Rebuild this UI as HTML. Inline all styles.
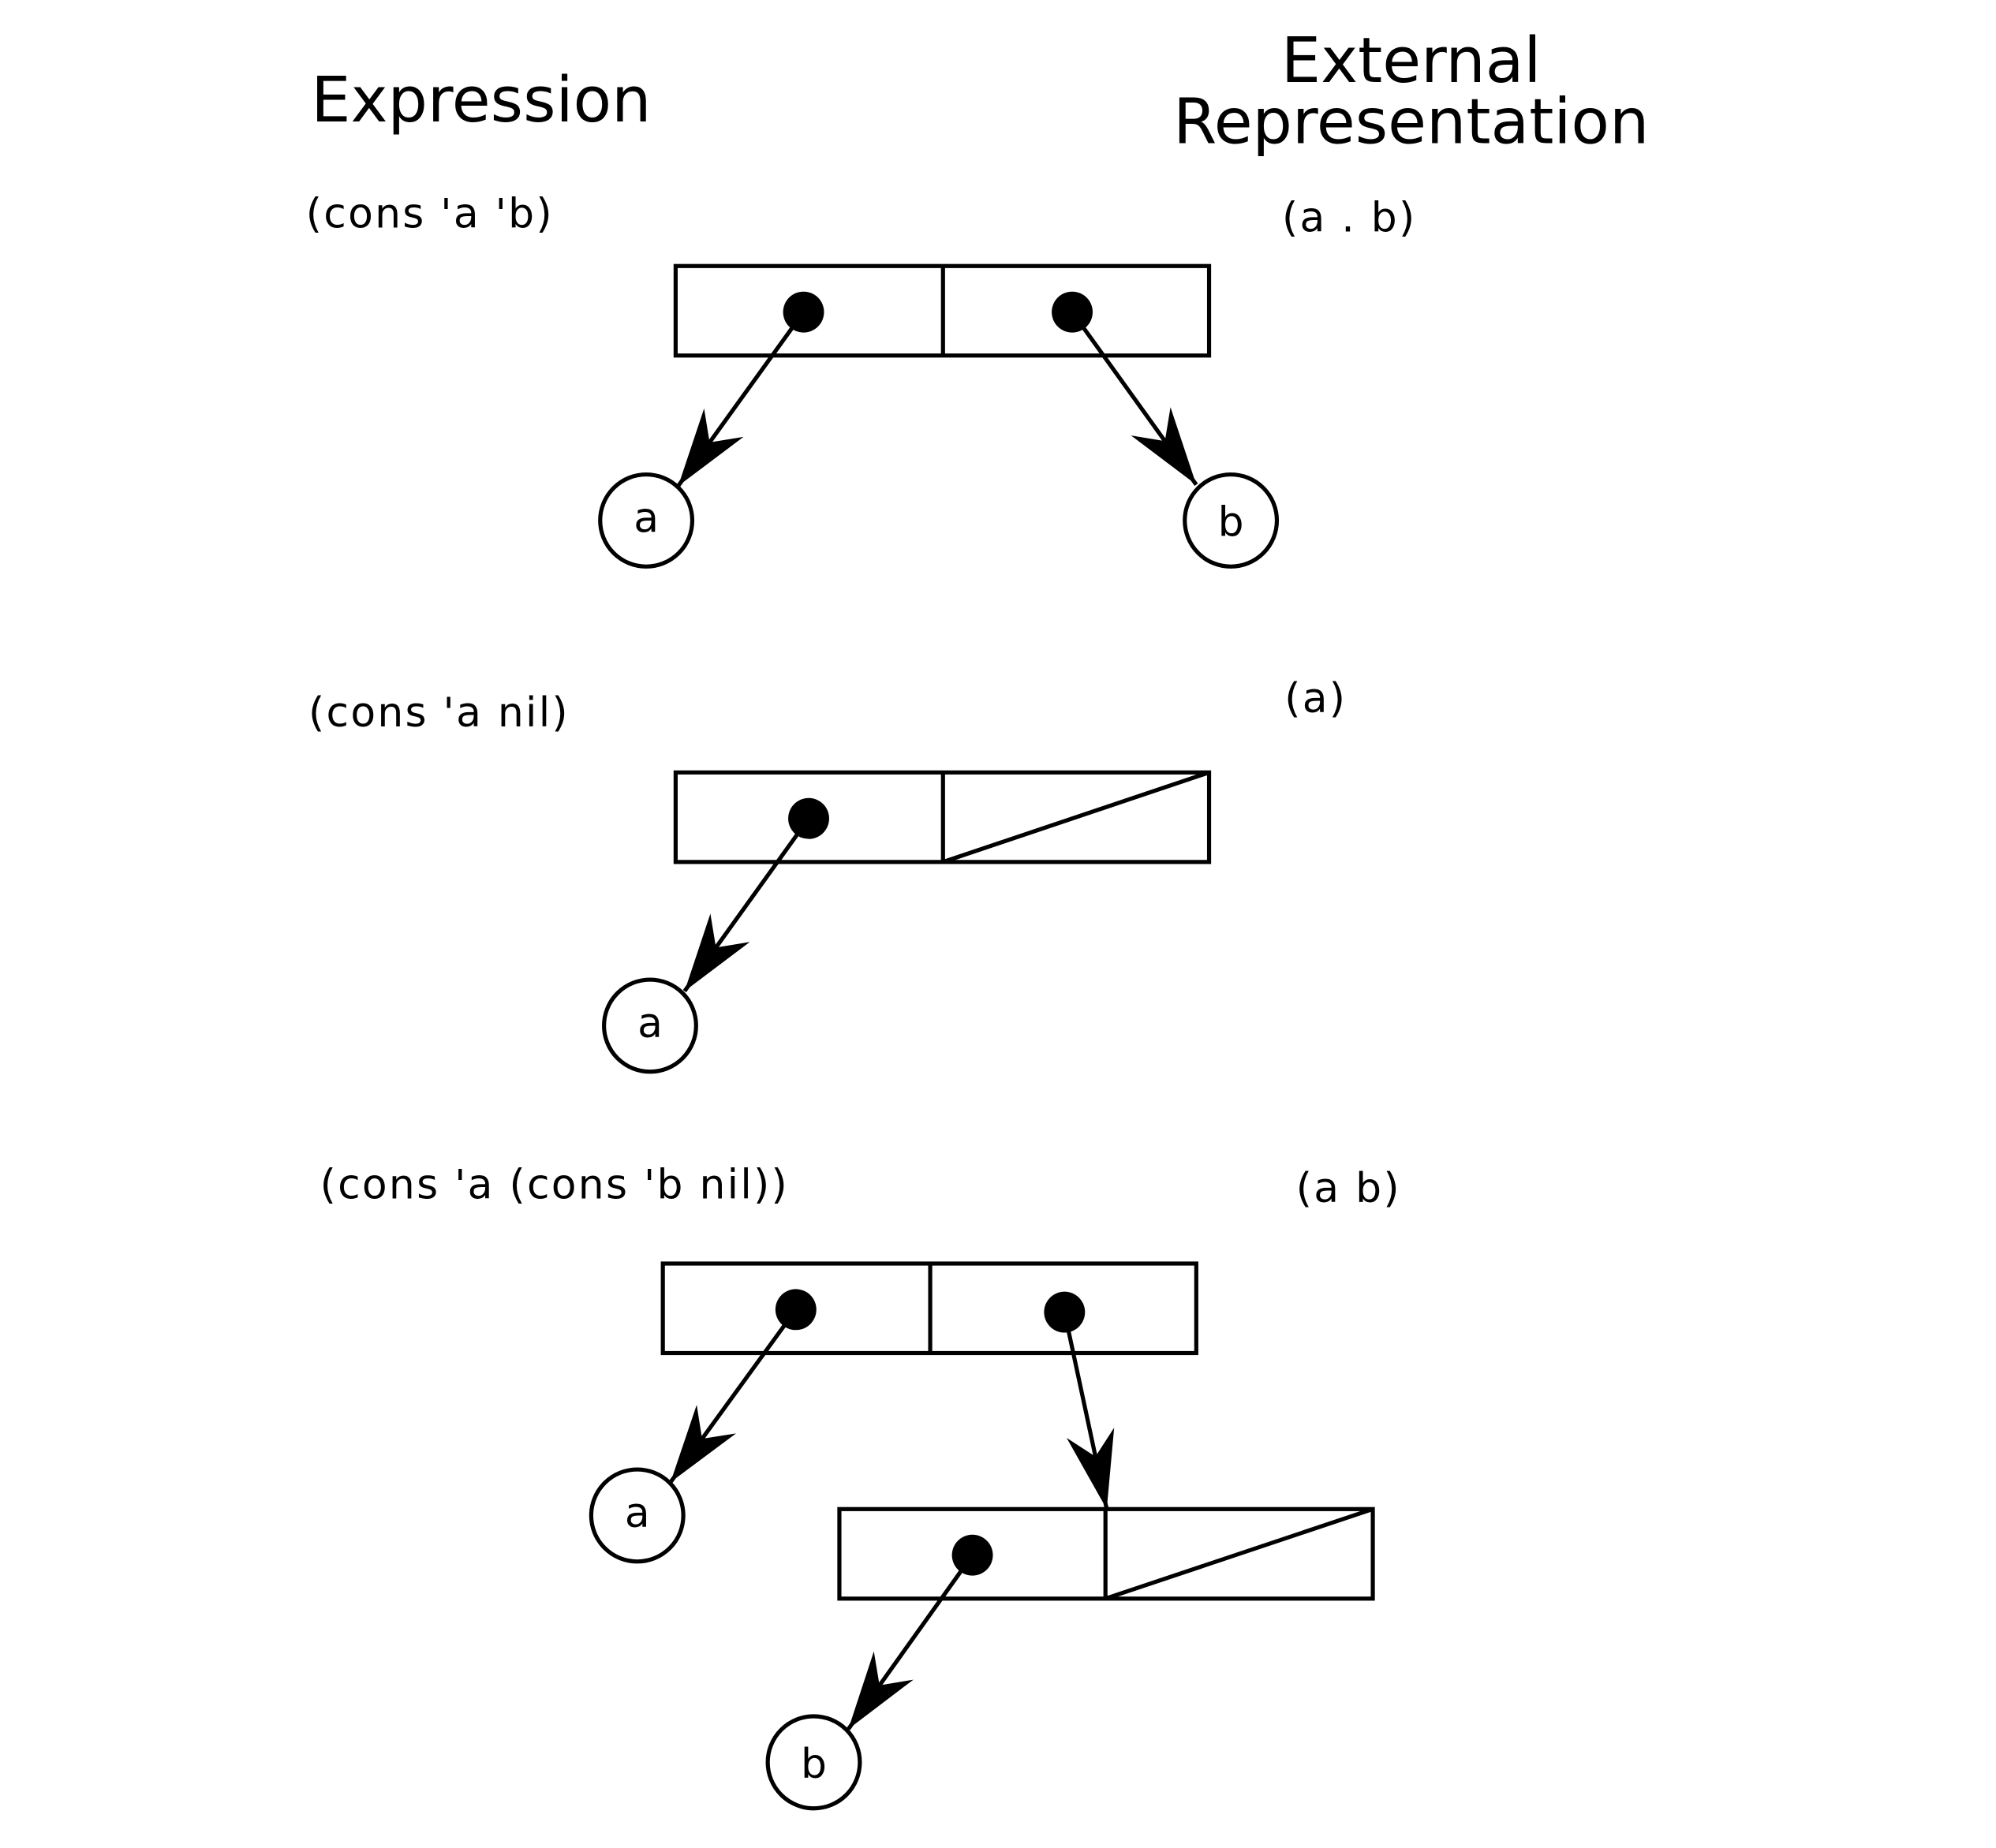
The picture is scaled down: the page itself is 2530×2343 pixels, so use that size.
<!DOCTYPE html>
<html><head><meta charset="utf-8"><style>
html,body{margin:0;padding:0;background:#fff;}
svg{display:block;}
text{font-family:"DejaVu Sans","Liberation Sans",sans-serif;fill:#000;}
</style></head><body>
<svg width="2530" height="2343" viewBox="0 0 1560 1445" xmlns="http://www.w3.org/2000/svg">
<defs>
<marker id="ah" markerUnits="userSpaceOnUse" markerWidth="80" markerHeight="60" viewBox="-70 -30 80 60" refX="0" refY="0" orient="auto">
<path d="M0,0 L-61,-19 L-42,0 L-61,19 Z" fill="#000"/>
</marker>
</defs>
<rect width="1560" height="1445" fill="#fff"/>
<g font-size="49" letter-spacing="0">
<text x="243" y="95">Expression</text>
<text x="1103" y="64" text-anchor="middle">External</text>
<text x="1103" y="112" text-anchor="middle">Representation</text>
</g>
<g font-size="32" letter-spacing="1.4">
<text x="239" y="178">(cons 'a 'b)</text>
<text x="1002" y="181">(a . b)</text>
<text x="241" y="568">(cons 'a nil)</text>
<text x="1004" y="557">(a)</text>
<text x="250" y="937">(cons 'a (cons 'b nil))</text>
<text x="1013" y="940">(a b)</text>
</g>
<g stroke="#000" stroke-width="3.2" fill="none">
<g>
<rect x="528" y="208" width="417" height="70"/><line x1="737" y1="208" x2="737" y2="278"/>
</g>
<line x1="628" y1="244" x2="530" y2="380" marker-end="url(#ah)"/>
<line x1="838" y1="244" x2="935" y2="379" marker-end="url(#ah)"/>
<circle cx="505" cy="407" r="36"/>
<circle cx="962" cy="407" r="36"/>
<g>
<rect x="528" y="604" width="417" height="70"/><line x1="737" y1="604" x2="737" y2="674"/><line x1="737" y1="674" x2="945" y2="604"/>
</g>
<line x1="632" y1="640" x2="535" y2="775" marker-end="url(#ah)"/>
<circle cx="508" cy="802" r="36"/>
<g>
<rect x="518" y="988" width="417" height="70"/><line x1="727" y1="988" x2="727" y2="1058"/>
</g>
<line x1="622" y1="1024" x2="524" y2="1159" marker-end="url(#ah)"/>
<line x1="832" y1="1026" x2="865" y2="1180" marker-end="url(#ah)"/>
<circle cx="498" cy="1185" r="36"/>
<g>
<rect x="656" y="1180" width="417" height="70"/><line x1="864" y1="1180" x2="864" y2="1250"/><line x1="864" y1="1250" x2="1073" y2="1180"/>
</g>
<line x1="760" y1="1216" x2="663" y2="1352" marker-end="url(#ah)"/>
<circle cx="636" cy="1378" r="36"/>
</g>
<g fill="#000">
<circle cx="628" cy="244" r="16"/><circle cx="838" cy="244" r="16"/>
<circle cx="632" cy="640" r="16"/>
<circle cx="622" cy="1024" r="16"/><circle cx="832" cy="1026" r="16"/>
<circle cx="760" cy="1216" r="16"/>
</g>
<g font-size="32" text-anchor="middle">
<text x="505" y="416">a</text>
<text x="962" y="419">b</text>
<text x="508" y="811">a</text>
<text x="498" y="1194">a</text>
<text x="636" y="1390">b</text>
</g>
</svg>
</body></html>
